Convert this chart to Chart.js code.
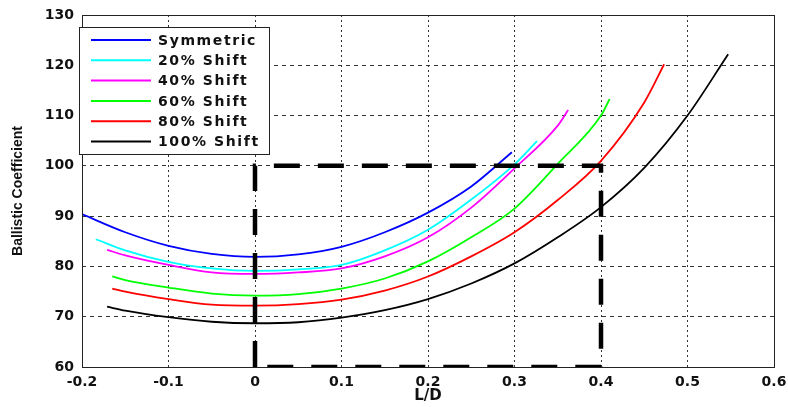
<!DOCTYPE html>
<html>
<head>
<meta charset="utf-8">
<script src="https://cdn.jsdelivr.net/npm/chart.js@4.4.1/dist/chart.umd.min.js"></script>
<style>
  html, body { margin: 0; padding: 0; background: #fff; }
  #wrap { width: 788px; height: 407px; }
</style>
</head>
<body>
<div id="wrap"><canvas id="c" width="788" height="407"></canvas></div>
<script>
// ---- data ----
const seriesNames = ['Symmetric', '20% Shift', '40% Shift', '60% Shift', '80% Shift', '100% Shift'];
const seriesColors = ['#0000ff', '#00ffff', '#ff00ff', '#00ff00', '#ff0000', '#000000'];

const symX = [-0.2, -0.15, -0.1, -0.05, 0, 0.05, 0.1, 0.15, 0.2, 0.25, 0.297];
const symY = [90.4, 86.8, 84.1, 82.5, 81.9, 82.4, 83.9, 86.8, 90.7, 95.9, 102.7];

const s20X = [-0.184, -0.15, -0.1, -0.05, 0, 0.05, 0.1, 0.15, 0.2, 0.25, 0.3, 0.326];
const s20Y = [85.4, 83.2, 80.9, 79.6, 79.1, 79.4, 80.3, 83.2, 87.3, 93.3, 100.3, 104.9];

const s40X = [-0.171, -0.15, -0.1, -0.05, 0, 0.05, 0.1, 0.15, 0.2, 0.25, 0.3, 0.35, 0.362];
const s40Y = [83.3, 82.2, 80.3, 78.8, 78.5, 78.8, 79.6, 82.0, 85.8, 91.7, 99.5, 108.0, 111.1];

const s60X = [-0.165, -0.15, -0.1, -0.05, 0, 0.05, 0.1, 0.15, 0.2, 0.25, 0.3, 0.35, 0.4, 0.41];
const s60Y = [78.0, 77.3, 75.8, 74.6, 74.2, 74.5, 75.6, 77.6, 81.0, 85.8, 91.5, 100.4, 110.0, 113.3];

const s80X = [-0.165, -0.15, -0.1, -0.05, 0, 0.05, 0.1, 0.15, 0.2, 0.25, 0.3, 0.35, 0.4, 0.45, 0.473];
const s80Y = [75.6, 75.0, 73.5, 72.4, 72.2, 72.5, 73.4, 75.2, 78.0, 82.0, 86.8, 93.2, 101.0, 112.6, 120.2];

const s100X = [-0.171, -0.15, -0.1, -0.05, 0, 0.05, 0.1, 0.15, 0.2, 0.25, 0.3, 0.35, 0.4, 0.45, 0.5, 0.547];
const s100Y = [72.0, 71.2, 69.9, 69.0, 68.7, 68.9, 69.8, 71.3, 73.5, 76.6, 80.6, 85.8, 91.8, 99.6, 110.0, 122.2];

const boxX = [0, 0, 0.4, 0.4, 0];
const boxY = [60, 100, 100, 60, 60];

const xTickLabels = ['-0.2', '-0.1', '0', '0.1', '0.2', '0.3', '0.4', '0.5', '0.6'];
const yTickLabels = ['60', '70', '80', '90', '100', '110', '120', '130'];

const xAxisTitle = 'L/D';
const yAxisTitle = 'Ballistic Coefficient';

// ---- build ----
const seriesX = [symX, s20X, s40X, s60X, s80X, s100X];
const seriesY = [symY, s20Y, s40Y, s60Y, s80Y, s100Y];
const pts = (xs, ys) => xs.map((x, i) => ({ x: x, y: ys[i] }));

const datasets = seriesNames.map((name, i) => ({
  label: name,
  data: pts(seriesX[i], seriesY[i]),
  borderColor: seriesColors[i],
  backgroundColor: seriesColors[i],
  borderWidth: 1.8,
  pointRadius: 0,
  showLine: true,
  cubicInterpolationMode: 'monotone',
  fill: false,
  order: 1
}));
datasets.push({
  label: 'box',
  data: pts(boxX, boxY),
  borderColor: '#000',
  borderWidth: 4.5,
  borderDash: [26, 18],
  pointRadius: 0,
  showLine: true,
  tension: 0,
  fill: false,
  order: 0
});

const FONT = '"DejaVu Sans", sans-serif';

const framePlugin = {
  id: 'frame',
  afterDatasetsDraw(chart) {
    const a = chart.chartArea, ctx = chart.ctx;
    ctx.save();
    ctx.strokeStyle = '#222';
    ctx.lineWidth = 1;
    ctx.setLineDash([]);
    ctx.strokeRect(Math.round(a.left) + 0.5, Math.round(a.top) + 0.5,
                   Math.round(a.right - a.left), Math.round(a.bottom - a.top));
    ctx.restore();
  }
};

const legendPlugin = {
  id: 'boxLegend',
  afterDraw(chart) {
    const ctx = chart.ctx;
    const bx = 79.5, by = 27.5, bw = 190, bh = 127;
    ctx.save();
    ctx.fillStyle = '#fff';
    ctx.fillRect(bx, by, bw, bh);
    ctx.strokeStyle = '#222';
    ctx.lineWidth = 1;
    ctx.setLineDash([]);
    ctx.strokeRect(bx, by, bw, bh);
    const rowY0 = 40, rowStep = 20.3;
    ctx.font = 'bold 14px ' + FONT;
    ctx.textBaseline = 'middle';
    ctx.textAlign = 'left';
    try { ctx.letterSpacing = '1.6px'; } catch (e) {}
    seriesNames.forEach((name, i) => {
      const y = rowY0 + i * rowStep;
      ctx.strokeStyle = seriesColors[i];
      ctx.lineWidth = 2;
      ctx.beginPath();
      ctx.moveTo(91, y);
      ctx.lineTo(151, y);
      ctx.stroke();
      ctx.fillStyle = '#111';
      ctx.fillText(name, 158, y + 1);
    });
    ctx.restore();
  }
};

new Chart(document.getElementById('c'), {
  type: 'scatter',
  data: { datasets: datasets },
  options: {
    responsive: false,
    animation: false,
    devicePixelRatio: 1,
    layout: { padding: { top: 15, right: 14, bottom: 0, left: 0 } },
    plugins: {
      legend: { display: false },
      tooltip: { enabled: false }
    },
    scales: {
      x: {
        type: 'linear',
        min: -0.2, max: 0.6,
        afterFit(s) { s.height = 40; s.paddingLeft = 0; s.paddingRight = 0; },
        afterBuildTicks(s) { s.ticks = xTickLabels.map(v => ({ value: parseFloat(v) })); },
        ticks: {
          padding: 7,
          color: '#111',
          font: { family: FONT, weight: 'bold', size: 14 },
          maxRotation: 0,
          autoSkip: false,
          callback: (v, i) => xTickLabels[i]
        },
        grid: { color: '#333', lineWidth: 1, drawTicks: false },
        border: { display: false, dash: [2, 3] },
        title: {
          display: true, text: xAxisTitle, color: '#111',
          font: { family: FONT, weight: 'bold', size: 15 },
          padding: { top: 0, bottom: 2 }
        }
      },
      y: {
        type: 'linear',
        min: 60, max: 130,
        afterFit(s) { s.width = 82; s.paddingTop = 0; s.paddingBottom = 0; },
        afterBuildTicks(s) { s.ticks = yTickLabels.map(v => ({ value: parseFloat(v) })); },
        ticks: {
          padding: 8,
          color: '#111',
          font: { family: FONT, weight: 'bold', size: 14 },
          autoSkip: false,
          callback: (v, i) => yTickLabels[i]
        },
        grid: { color: '#333', lineWidth: 1, drawTicks: false },
        border: { display: false, dash: [4, 4] },
        title: {
          display: true, text: yAxisTitle, color: '#111',
          font: { family: '"Liberation Sans", Arial, sans-serif', weight: 'bold', size: 14 },
          padding: { top: 10, bottom: 0 }
        }
      }
    }
  },
  plugins: [framePlugin, legendPlugin]
});
</script>
</body>
</html>
